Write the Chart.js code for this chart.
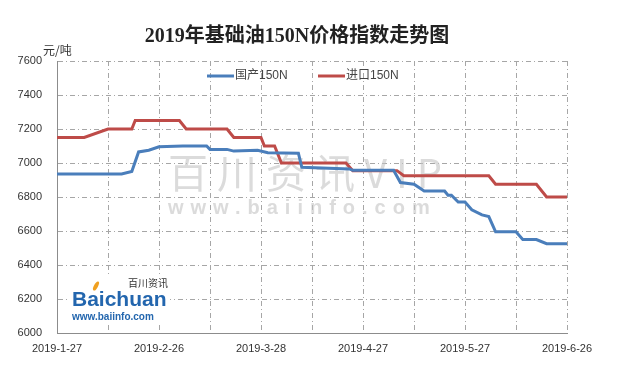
<!DOCTYPE html>
<html>
<head>
<meta charset="utf-8">
<script src="https://cdn.jsdelivr.net/npm/chart.js@4"></script>
<style>
  html, body { margin: 0; padding: 0; background: #fff; }
</style>
</head>
<body>
<canvas id="myChart" width="620" height="372"></canvas>
<script>
// 国产150N (domestic)
const domesticDates = [
  '2019-1-27', '2019-2-15', '2019-2-18', '2019-2-20', '2019-2-23',
  '2019-2-26', '2019-3-5', '2019-3-12', '2019-3-13', '2019-3-18',
  '2019-3-20', '2019-3-27', '2019-3-30', '2019-4-8', '2019-4-9',
  '2019-4-23', '2019-4-24', '2019-5-6', '2019-5-8', '2019-5-12',
  '2019-5-15', '2019-5-21', '2019-5-22', '2019-5-23', '2019-5-25',
  '2019-5-27', '2019-5-29', '2019-6-1', '2019-6-3', '2019-6-5',
  '2019-6-11', '2019-6-13', '2019-6-17', '2019-6-20', '2019-6-26'
];
const domesticPrices = [
  6935, 6935, 6950, 7065, 7075,
  7095, 7100, 7100, 7080, 7080,
  7070, 7075, 7060, 7058, 6975,
  6965, 6957, 6957, 6885, 6875,
  6835, 6835, 6810, 6810, 6770,
  6770, 6725, 6695, 6685, 6595,
  6595, 6550, 6550, 6525, 6525
];

// 进口150N (imported)
const importDates = [
  '2019-1-27', '2019-2-4', '2019-2-11', '2019-2-18', '2019-2-19',
  '2019-3-4', '2019-3-6', '2019-3-18', '2019-3-20', '2019-3-28',
  '2019-3-29', '2019-4-1', '2019-4-3', '2019-4-22', '2019-4-24',
  '2019-5-7', '2019-5-9', '2019-6-3', '2019-6-5', '2019-6-17',
  '2019-6-20', '2019-6-26'
];
const importPrices = [
  7150, 7150, 7200, 7200, 7250,
  7250, 7200, 7200, 7150, 7150,
  7100, 7100, 7000, 7000, 6955,
  6955, 6925, 6925, 6875, 6875,
  6800, 6800
];

const xTickLabels = ['2019-1-27', '2019-2-26', '2019-3-28', '2019-4-27', '2019-5-27', '2019-6-26'];
const seriesNames = ['国产150N', '进口150N'];

const titleText = '2019年基础油150N价格指数走势图';
const unitText = '元/吨';

const SANS = '"Liberation Sans", Arial, "Noto Sans CJK SC", sans-serif';

// days since the first tick date
const dayIndex = (s) => {
  const [y, m, d] = s.split('-').map(Number);
  const [y0, m0, d0] = xTickLabels[0].split('-').map(Number);
  return Math.round((Date.UTC(y, m - 1, d) - Date.UTC(y0, m0 - 1, d0)) / 86400000);
};

const toPoints = (dates, prices) => dates.map((d, i) => ({ x: dayIndex(d), y: prices[i] }));

const decor = {
  id: 'decor',
  beforeDatasetsDraw(chart) {
    const ctx = chart.ctx;
    ctx.save();
    // watermark
    ctx.textBaseline = 'middle';
    ctx.textAlign = 'left';
    ctx.fillStyle = 'rgba(195,195,195,0.6)';
    ctx.font = '40px "Noto Sans CJK SC", sans-serif';
    ctx.letterSpacing = '9px';
    ctx.fillText('百川资讯VIP', 168, 173);
    ctx.font = 'bold 20px ' + SANS;
    ctx.letterSpacing = '7px';
    ctx.fillText('www.baiinfo.com', 168, 208);
    ctx.letterSpacing = '0px';

    // logo
    ctx.fillStyle = '#fff';
    ctx.fillRect(70, 276, 100, 46);
    ctx.fillStyle = '#333';
    ctx.font = '10px "Noto Sans CJK SC", sans-serif';
    ctx.fillText('百川资讯', 128, 283);
    ctx.fillStyle = '#2366ae';
    ctx.font = 'bold 21px ' + SANS;
    ctx.textBaseline = 'alphabetic';
    ctx.fillText('Baichuan', 72, 306);
    ctx.font = 'bold 10px ' + SANS;
    ctx.fillText('www.baiinfo.com', 72, 320);
    ctx.fillStyle = '#f0a020';
    ctx.beginPath();
    ctx.ellipse(96, 286, 2, 5, 0.5, 0, Math.PI * 2);
    ctx.fill();
    ctx.restore();
  },
  afterDraw(chart) {
    const ctx = chart.ctx;
    ctx.save();
    ctx.fillStyle = '#222';
    ctx.textBaseline = 'middle';
    ctx.textAlign = 'center';
    ctx.font = 'bold 20px "Liberation Serif", "Noto Sans CJK SC", serif';
    ctx.fillText(titleText, 297, 37);

    ctx.textAlign = 'left';
    ctx.fillStyle = '#333';
    ctx.font = '12px "Noto Sans CJK SC", sans-serif';
    ctx.fillText(unitText, 43, 50);

    // legend
    const items = [
      { x: 207, ds: chart.data.datasets[0] },
      { x: 318, ds: chart.data.datasets[1] }
    ];
    ctx.font = '12px ' + SANS;
    items.forEach((it) => {
      ctx.strokeStyle = it.ds.borderColor;
      ctx.lineWidth = 3;
      ctx.beginPath();
      ctx.moveTo(it.x, 76);
      ctx.lineTo(it.x + 27, 76);
      ctx.stroke();
      ctx.fillStyle = '#444';
      ctx.fillText(it.ds.label, it.x + 28, 76);
    });
    ctx.restore();
  }
};

const gridStyle = {
  color: '#a6a6a6',
  lineWidth: 1,
  drawTicks: false
};

const chart = new Chart(document.getElementById('myChart'), {
  type: 'line',
  data: {
    datasets: [
      {
        label: seriesNames[0],
        data: toPoints(domesticDates, domesticPrices),
        borderColor: '#4a7ebb',
        borderWidth: 3,
        pointRadius: 0,
        tension: 0,
        order: 1
      },
      {
        label: seriesNames[1],
        data: toPoints(importDates, importPrices),
        borderColor: '#be4b48',
        borderWidth: 3,
        pointRadius: 0,
        tension: 0,
        order: 2
      }
    ]
  },
  options: {
    responsive: false,
    animation: false,
    layout: { padding: { left: 0, top: 61, right: 53, bottom: 9 } },
    plugins: {
      legend: { display: false },
      title: { display: false },
      tooltip: { enabled: false }
    },
    scales: {
      x: {
        type: 'linear',
        min: 0,
        max: 150,
        grid: gridStyle,
        border: { display: true, color: '#8c8c8c', width: 1, dash: [5, 3, 1, 3] },
        ticks: {
          stepSize: 15,
          autoSkip: false,
          maxRotation: 0,
          padding: 9,
          color: '#333',
          font: { size: 11, family: SANS },
          callback: (v) => (v % 30 === 0 ? xTickLabels[v / 30] : '')
        },
        afterFit: (scale) => { scale.height = 30; }
      },
      y: {
        min: 6000,
        max: 7600,
        grid: gridStyle,
        border: { display: true, color: '#8c8c8c', width: 1, dash: [5, 3, 1, 3] },
        ticks: {
          stepSize: 200,
          padding: 15,
          color: '#333',
          font: { size: 11, family: SANS },
          callback: (v) => String(v)
        },
        afterFit: (scale) => { scale.width = 57; }
      }
    }
  },
  plugins: [decor]
});
</script>
</body>
</html>
